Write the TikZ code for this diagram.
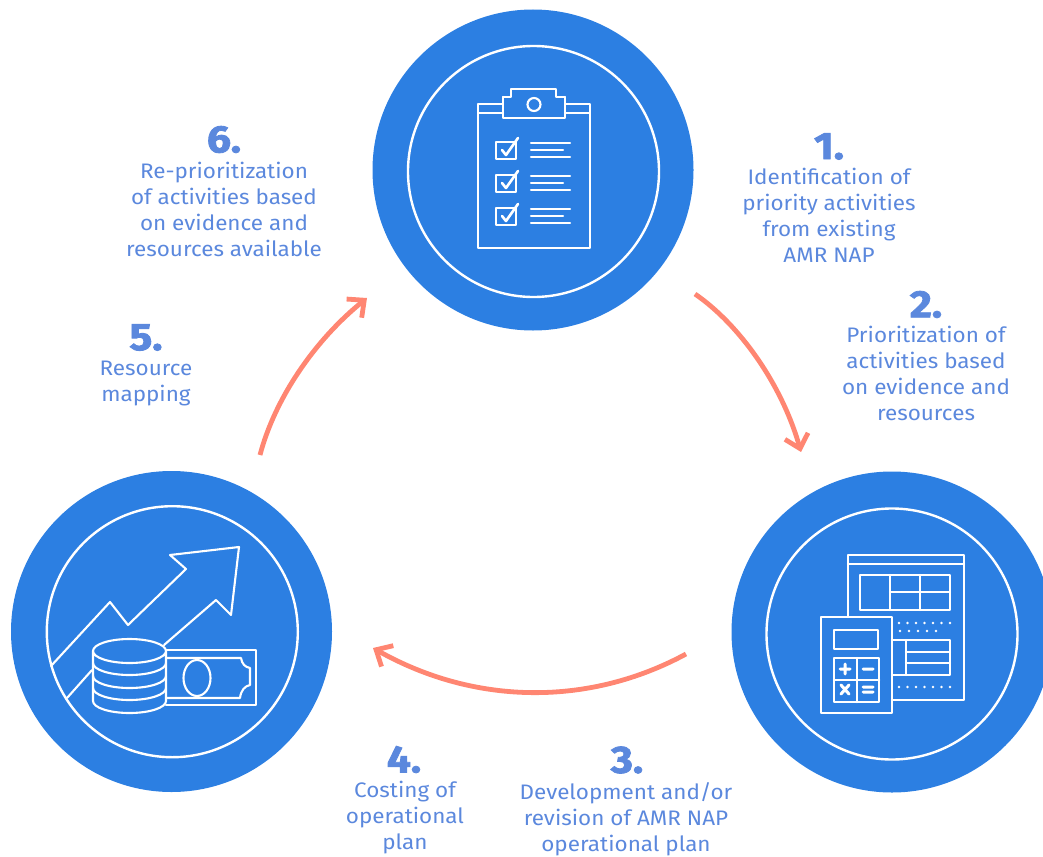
\documentclass[tikz,border=0pt]{standalone}
\usepackage{fontspec}
\setmainfont[FakeStretch=1.07,BoldFeatures={FakeBold=2.2,FakeStretch=1.12}]{Fira Sans}
\usetikzlibrary{arrows.meta}
\definecolor{discblue}{HTML}{2C7FE2}
\definecolor{labelblue}{HTML}{5B88DD}
\definecolor{arrowred}{HTML}{FF8672}
\tikzset{
  disc/.style={circle,fill=discblue,draw=none,minimum size=321pt,inner sep=0pt},
  ring/.style={circle,draw=white,line width=2.4pt,minimum size=251pt,inner sep=0pt},
  ic/.style={draw=white,line width=2.1pt,line join=round,line cap=round},
  num/.style={text=labelblue,font=\fontsize{38}{38}\selectfont\bfseries,inner sep=0pt,anchor=center},
  lab/.style={text=labelblue,font=\fontsize{21}{26}\selectfont,align=center,inner sep=0pt,anchor=north},
  flow/.style={draw=arrowred,line width=4.8pt,-{Straight Barb[length=13pt,width=24pt,line width=4.8pt]}}
}
\begin{document}
\begin{tikzpicture}[x=1pt,y=-1pt]
\useasboundingbox (0,0) rectangle (1043,856);
\node[disc] (d1) at (533,170) {};
\node[disc] (d2) at (892,632) {};
\node[disc] (d3) at (171.5,631.5) {};
\node[ring] (r1) at (533.5,171.5) {};
\node[ring] (r2) at (892,634) {};
\node[ring] (r3) at (172.3,631.7) {};
% clipboard
\draw[ic] (478,113)--(478,248)--(590,248)--(590,113);
\draw[ic] (478,104)--(503,104)--(503,97)--(511,97)--(511,89)--(556,89)--(556,97)--(565,97)--(565,104)--(590,104)--(590,113)--(565,113) (478,104)--(478,113)--(503,113);
\draw[ic] (503,97)--(503,118)--(565,118)--(565,97);
\draw[ic] (534,104.5) circle (6.5);
\foreach \y in {0,33,66}{
  \draw[ic] (496,142+\y)--(516,142+\y)--(516,159+\y)--(496,159+\y)--cycle;
  \draw[ic,line width=2.6pt] (502,150+\y)--(506,155+\y)--(518,138+\y);
  \draw[ic] (531,143+\y)--(570,143+\y) (531,150+\y)--(563,150+\y) (531,157+\y)--(570,157+\y);
}
% sheet + calculator
\draw[ic] (848,617)--(848,555)--(964,555)--(964,700)--(892,700);
\draw[ic] (848,564)--(964,564);
\draw[ic] (860,575)--(950,575)--(950,610)--(860,610)--cycle (890,575)--(890,610) (920,575)--(920,610) (890,592)--(950,592);
\draw[ic] (892,640)--(950,640)--(950,675)--(892,675) (906,640)--(906,675) (892,675)--(892,640) (906,652)--(950,652) (906,663)--(950,663);
\foreach \x in {899,907.5,...,950}{\fill[white] (\x,623) circle (1.3) (\x,687) circle (1.3);}
\foreach \x in {900,909,...,940}{\fill[white] (\x,631) circle (1.3);}
\draw[ic,line width=2.5pt] (821,617)--(892,617)--(892,713)--(821,713)--cycle;
\draw[ic,line width=2.5pt] (834,630)--(878,630)--(878,649)--(834,649)--cycle;
\draw[ic,line width=2.5pt] (834,658)--(879,658)--(879,702)--(834,702)--cycle (857,658)--(857,702) (834,680)--(879,680);
\draw[ic,line width=3pt] (840,669)--(850,669) (845,664)--(845,674) (863,669)--(873,669) (841,685)--(849,694) (849,685)--(841,694) (863,687)--(873,687) (863,692)--(873,692);
% chart + money
\draw[ic] (51,666)--(110,602)--(128,625)--(186,569)--(170,555)--(239,547)--(231,615)--(216,600)--(164,645);
\draw[ic] (67,698)--(92,670);
\draw[ic] (166,650)--(256,650)--(256,705)--(166,705);
\draw[ic] (166,658)--(241,658) .. controls (242,664) and (245,667) .. (250,668) -- (250,685) .. controls (245,686) and (241,690) .. (240,698) -- (166,698);
\draw[ic] (197,678) ellipse (13.5 and 18);
\draw[ic,fill=discblue] (93,651) -- (93,701) arc (180:0:36.5 and 12) -- (166,651) arc (0:360:36.5 and 12);
\draw[ic] (93,663) arc (180:0:36.5 and 12) (93,676) arc (180:0:36.5 and 12) (93,688) arc (180:0:36.5 and 12);
% arrows
\coordinate (a1s) at (695,294);
\coordinate (a1e) at (801,452);
\coordinate (a2s) at (686,654);
\coordinate (a2e) at (373,648);
\coordinate (a3s) at (260,455);
\coordinate (a3e) at (367,298);
\draw[flow] (a1s) .. controls (740,325) and (782,385) .. (a1e);
\draw[flow] (a2s) .. controls (590,706) and (476,706) .. (a2e);
\draw[flow] (a3s) .. controls (275,398) and (315,340) .. (a3e);
% labels
\node[num] (n1) at (829,146.5) {1.};
\node[lab] (t1) at (829,168) {Identification of\\priority activities\\from existing\\AMR NAP};
\node[num] (n2) at (926,304.5) {2.};
\node[lab] (t2) at (926,326) {Prioritization of\\activities based\\on evidence and\\resources};
\node[num] (n3) at (627,760) {3.};
\node[lab] (t3) at (626,782) {Development and/or\\revision of AMR NAP\\operational plan};
\node[num] (n4) at (404,759.5) {4.};
\node[lab] (t4) at (405,781) {Costing of\\operational\\plan};
\node[num] (n5) at (146,337.5) {5.};
\node[lab] (t5) at (146,361) {Resource\\mapping};
\node[num] (n6) at (224,139.5) {6.};
\node[lab] (t6) at (224,162) {Re-prioritization\\of activities based\\on evidence and\\resources available};
\end{tikzpicture}
\end{document}
